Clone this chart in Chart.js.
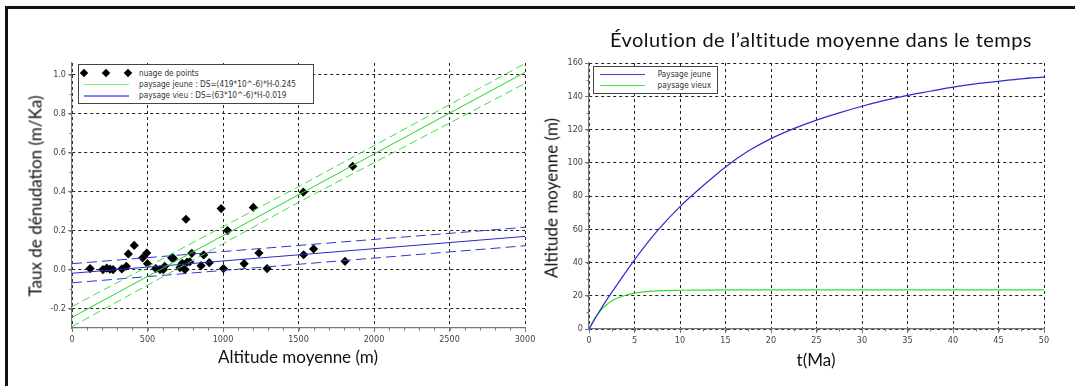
<!DOCTYPE html>
<html lang="fr">
<head>
<meta charset="utf-8">
<title>Dénudation et altitude moyenne</title>
<script src="https://cdn.jsdelivr.net/npm/chart.js@4.4.1/dist/chart.umd.min.js"></script>
<style>
  html, body { margin: 0; padding: 0; background: #fff; }
  #page { position: relative; width: 1075px; height: 386px; overflow: hidden; background: #fff; }
  #frame { position: absolute; left: 5px; top: 6px; width: 1100px; height: 400px;
           border-top: 3px solid #111; border-left: 3px solid #111; }
  .plot { position: absolute; top: 0; height: 386px; }
  .txt { position: absolute; font-family: Lato, 'Open Sans', sans-serif; color: #111; white-space: nowrap; }
  .ytitle { transform: translate(-50%, -50%) rotate(-90deg); }
  .xtitle { transform: translateX(-50%); }
  .legend { position: absolute; border: 1px solid #444; background: #fff;
            font-family: 'Liberation Sans Narrow', 'DejaVu Sans Condensed', sans-serif; font-size: 8.2px; color: #333; }
  .legend .row { position: absolute; left: 0; right: 0; height: 11px; }
  .legend .lbl { position: absolute; top: 0; line-height: 11px; }
  .legend .sw { position: absolute; top: 5px; height: 0; border-top: 1px solid; }
  .legend .dia { position: absolute; top: 2px; width: 6px; height: 6px; background: #000; transform: rotate(45deg); }
</style>
</head>
<body>
<div id="page">
  <div id="frame"></div>

  <div class="plot" style="left:0;width:540px"><canvas id="denudChart"></canvas></div>
  <div class="plot" style="left:540px;width:535px"><canvas id="altChart"></canvas></div>

  <div class="txt" style="left:610px;top:27px;font-size:20px;letter-spacing:0.45px">Évolution de l’altitude moyenne dans le temps</div>
  <div class="txt ytitle" style="left:35px;top:196px;font-size:17px">Taux de dénudation (m/Ka)</div>
  <div class="txt xtitle" style="left:298px;top:346px;font-size:17px">Altitude moyenne (m)</div>
  <div class="txt ytitle" style="left:551px;top:198px;font-size:17px">Altitude moyenne (m)</div>
  <div class="txt xtitle" style="left:816px;top:349px;font-size:17px">t(Ma)</div>

  <div class="legend" style="left:78px;top:64px;width:234px;height:38px">
    <div class="row" style="top:3px">
      <div class="dia" style="left:2px"></div><div class="dia" style="left:24px"></div><div class="dia" style="left:46px"></div>
      <div class="lbl" style="left:60px">nuage de points</div>
    </div>
    <div class="row" style="top:14px">
      <div class="sw" style="left:5px;width:45px;border-color:#7ef07e"></div>
      <div class="lbl" style="left:60px">paysage jeune : DS=(419*10^-6)*H-0.245</div>
    </div>
    <div class="row" style="top:25px">
      <div class="sw" style="left:5px;width:45px;border-color:#8080ff;border-top-width:2px"></div>
      <div class="lbl" style="left:60px">paysage vieu : DS=(63*10^-6)*H-0.019</div>
    </div>
  </div>

  <div class="legend" style="left:593px;top:66px;width:123px;height:26px">
    <div class="row" style="top:2px">
      <div class="sw" style="left:6px;width:45px;border-color:#4040e0"></div>
      <div class="lbl" style="right:6px">Paysage jeune</div>
    </div>
    <div class="row" style="top:13px">
      <div class="sw" style="left:6px;width:45px;border-color:#40e040"></div>
      <div class="lbl" style="right:6px">paysage vieux</div>
    </div>
  </div>
</div>

<script>
'use strict';

// ─── Data: dénudation vs altitude ─────────────────────────────────────────────
const altitudes = [120, 205, 230, 252, 272, 330, 360, 373, 412, 468, 495, 500, 555, 583, 605, 614,
  660, 672, 715, 730, 748, 755, 762, 780, 793, 855, 872, 909, 988, 1003, 1030, 1140, 1201, 1238,
  1292, 1532, 1534, 1600, 1808, 1859];
const denudRates = [0.005, 0.0, 0.007, 0.002, 0.0, 0.003, 0.017, 0.08, 0.124, 0.06, 0.085, 0.03, 0.005, 0.0, 0.0, 0.017,
  0.06, 0.058, 0.01, 0.032, 0.0, 0.258, 0.038, 0.04, 0.083, 0.02, 0.075, 0.035, 0.313, 0.005, 0.2, 0.03, 0.319, 0.085,
  0.005, 0.397, 0.076, 0.106, 0.042, 0.53];

// regressions DS = a*H + b
const jeuneSlope = 419e-6, jeuneIntercept = -0.245;
const vieuxSlope = 63e-6, vieuxIntercept = -0.019;
const fitRange = [0, 3000];

// confidence bands
const jeuneBandH = [0, 1500, 3000];
const jeuneUpper = [-0.19, 0.425, 1.057];
const jeuneLower = [-0.293, 0.345, 0.955];
const vieuxBandH = [0, 3000];
const vieuxUpper = [0.03, 0.217];
const vieuxLower = [-0.068, 0.122];

const altTicks = [0, 500, 1000, 1500, 2000, 2500, 3000];
const rateTicks = [-0.2, 0, 0.2, 0.4, 0.6, 0.8, 1.0];

// ─── Data: altitude moyenne dans le temps ─────────────────────────────────────
const tJeune = [0, 0.5, 1, 1.5, 2, 2.5, 5, 7.5, 10, 12.5, 15, 17.5, 20, 22.5, 25, 27.5, 30, 32.5, 35, 37.5, 40, 42.5, 45, 47.5, 50];
const altJeune = [0, 4.7, 9.3, 13.8, 18, 22, 41.6, 59, 73.6, 86, 97.5, 107, 114.5, 120.5, 125.6, 130, 134, 137.5, 140.5, 143, 145.5, 147.5, 149, 150.5, 151.5];
const tVieux = [0, 0.5, 1, 1.5, 2, 2.5, 3, 4, 5, 6, 7, 8, 10, 12, 15, 50];
const altVieux = [0, 5.2, 9.2, 12.4, 14.9, 16.8, 18.3, 20.3, 21.6, 22.3, 22.8, 23.1, 23.3, 23.4, 23.5, 23.5];

const timeTicks = [0, 5, 10, 15, 20, 25, 30, 35, 40, 45, 50];
const meanAltTicks = [0, 20, 40, 60, 80, 100, 120, 140, 160];

// ─── Helpers ──────────────────────────────────────────────────────────────────
const zip = (xs, ys) => xs.map((x, i) => ({ x, y: ys[i] }));
const fitLine = (a, b) => fitRange.map(h => ({ x: h, y: a * h + b }));

const tickFont = { family: "'Liberation Sans Narrow', 'DejaVu Sans Condensed', sans-serif", size: 9 };

function axis(ticksList, min, max, size, fmt, isX) {
  return {
    type: 'linear',
    min, max,
    afterFit: s => { if (isX) s.height = size; else s.width = size; },
    afterBuildTicks: s => { s.ticks = ticksList.map(v => ({ value: v })); },
    ticks: { font: tickFont, color: '#444', padding: 2, callback: fmt, maxRotation: 0, autoSkip: false },
    grid: { color: '#222', lineWidth: 1, drawTicks: true, tickLength: 4, tickColor: '#777' },
    border: { display: true, color: '#777', width: 1.2, dash: [3, 3] },
  };
}

// short ticks between the labelled ones
const minorTicks = {
  id: 'minorTicks',
  afterDraw(chart, args, opts) {
    const ctx = chart.ctx;
    ctx.save();
    ctx.strokeStyle = '#777';
    ctx.lineWidth = 1;
    ['x', 'y'].forEach(id => {
      const s = chart.scales[id];
      const step = opts[id];
      if (!step) return;
      for (let v = Math.ceil(s.min / step) * step; v <= s.max + 1e-9; v += step) {
        const p = Math.round(s.getPixelForValue(v)) + 0.5;
        ctx.beginPath();
        if (id === 'x') { ctx.moveTo(p, s.top); ctx.lineTo(p, s.top + 2.5); }
        else { ctx.moveTo(s.right, p); ctx.lineTo(s.right - 2.5, p); }
        ctx.stroke();
      }
    });
    ctx.restore();
  },
};

const baseOptions = {
  responsive: true,
  maintainAspectRatio: false,
  animation: false,
  events: [],
  plugins: { legend: { display: false }, tooltip: { enabled: false } },
};

// ─── Left chart ───────────────────────────────────────────────────────────────
new Chart(document.getElementById('denudChart'), {
  type: 'scatter',
  plugins: [minorTicks],
  data: {
    datasets: [
      { type: 'line', data: zip(jeuneBandH, jeuneUpper), borderColor: '#3ee03e', borderWidth: 1, borderDash: [8, 4], pointRadius: 0 },
      { type: 'line', data: zip(jeuneBandH, jeuneLower), borderColor: '#3ee03e', borderWidth: 1, borderDash: [8, 4], pointRadius: 0 },
      { type: 'line', data: fitLine(jeuneSlope, jeuneIntercept), borderColor: '#22d622', borderWidth: 1, pointRadius: 0 },
      { type: 'line', data: zip(vieuxBandH, vieuxUpper), borderColor: '#3434d0', borderWidth: 1, borderDash: [10, 5], pointRadius: 0 },
      { type: 'line', data: zip(vieuxBandH, vieuxLower), borderColor: '#3434d0', borderWidth: 1, borderDash: [10, 5], pointRadius: 0 },
      { type: 'line', data: fitLine(vieuxSlope, vieuxIntercept), borderColor: '#2a2acc', borderWidth: 1, pointRadius: 0 },
      { data: zip(altitudes, denudRates), pointStyle: 'rectRot', pointRadius: 4.6,
        backgroundColor: '#000', borderColor: '#000', borderWidth: 0 },
    ],
  },
  options: {
    ...baseOptions,
    layout: { padding: { left: 32, top: 63, right: 15, bottom: 38 } },
    plugins: { ...baseOptions.plugins, minorTicks: { x: 100, y: 0.1 } },
    scales: {
      x: axis(altTicks, 0, 3000, 20, v => String(v), true),
      y: axis(rateTicks, -0.3, 1.06, 40, v => v.toFixed(1), false),
    },
  },
});

// ─── Right chart ──────────────────────────────────────────────────────────────
new Chart(document.getElementById('altChart'), {
  type: 'line',
  plugins: [minorTicks],
  data: {
    datasets: [
      { data: zip(tJeune, altJeune), borderColor: '#2b2bd0', borderWidth: 1.2, pointRadius: 0, cubicInterpolationMode: 'monotone' },
      { data: zip(tVieux, altVieux), borderColor: '#2ee02e', borderWidth: 1.2, pointRadius: 0, cubicInterpolationMode: 'monotone' },
    ],
  },
  options: {
    ...baseOptions,
    layout: { padding: { left: 19, top: 63, right: 31, bottom: 37 } },
    plugins: { ...baseOptions.plugins, minorTicks: { x: 2.5, y: 10 } },
    scales: {
      x: axis(timeTicks, 0, 50, 20, v => String(v), true),
      y: axis(meanAltTicks, 0, 160, 30, v => String(v), false),
    },
  },
});
</script>
</body>
</html>
